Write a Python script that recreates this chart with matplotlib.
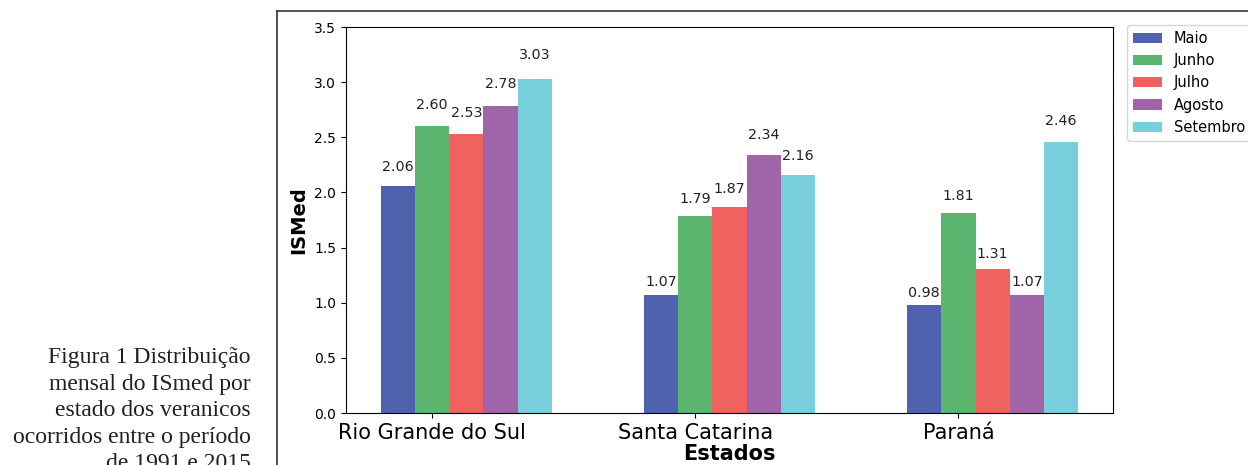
import numpy as np
import matplotlib
matplotlib.use('Agg')
import matplotlib.pyplot as plt
from matplotlib.lines import Line2D

# data
estados = ['Rio Grande do Sul', 'Santa Catarina', 'Paraná']
meses = ['Maio', 'Junho', 'Julho', 'Agosto', 'Setembro']
maio = [2.06, 1.07, 0.98]
junho = [2.60, 1.79, 1.81]
julho = [2.53, 1.87, 1.31]
agosto = [2.78, 2.34, 1.07]
setembro = [3.03, 2.16, 2.46]
cores = ['#4f62ad', '#5bb56e', '#f0625f', '#a065a8', '#78cedb']

legenda = ['Figura 1 Distribuição',
           'mensal do ISmed por',
           'estado dos veranicos',
           'ocorridos entre o período',
           'de 1991 e 2015']

W, H = 1248, 465
fig = plt.figure(figsize=(W / 100, H / 100), dpi=100)

# outer frame of the figure as it sits on the page
fig.add_artist(Line2D([277 / W, 277 / W], [0, 1 - 11 / H], color='#333333', lw=1.2))
fig.add_artist(Line2D([277 / W, 1], [1 - 11 / H, 1 - 11 / H], color='#333333', lw=1.2))

# caption on the left (last line is cut by the page edge, as in the source)
for i, linha in enumerate(legenda):
    y = 363 + i * 26.5
    fig.text(251 / W, 1 - y / H, linha, ha='right', va='baseline',
             family='Liberation Serif', fontsize=17, color='#231f20')

ax = fig.add_axes([346 / W, 1 - 413 / H, (1113 - 346) / W, (413 - 27) / H])

ind = np.arange(len(estados))
width = 0.13
series = [maio, junho, julho, agosto, setembro]
for i, (vals, mes) in enumerate(zip(series, meses)):
    x = ind + i * width
    ax.bar(x, vals, width, color=cores[i], label=mes)
    for xi, v in zip(x, vals):
        ax.text(xi, 1.05 * v, '%.2f' % v, ha='center', va='bottom',
                fontsize=10.3, color='#222222')

ax.set_ylim(0, 3.5)
ax.set_yticks(np.arange(0, 3.51, 0.5))
ax.set_xticks(ind + width)
ax.set_xticklabels(estados, fontsize=15)
ax.tick_params(axis='y', labelsize=10)
ax.set_ylabel('ISMed', fontsize=14, fontweight='bold')
ax.set_xlabel('Estados', fontsize=15, fontweight='bold', labelpad=1)

ax.legend(loc='upper left', bbox_to_anchor=(1127 / W, 1 - 25 / H),
          bbox_transform=fig.transFigure, borderaxespad=0, fontsize=10.5)

fig.savefig('out.png', dpi=100)
